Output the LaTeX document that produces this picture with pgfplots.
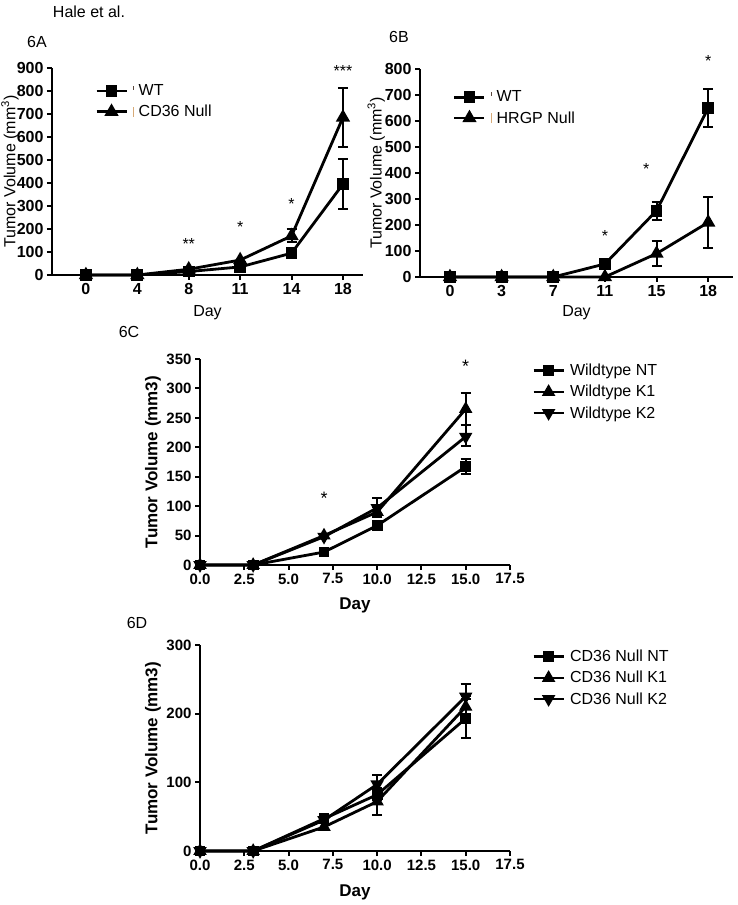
\documentclass[border=0pt]{standalone}
\usepackage{pgfplots}
\pgfplotsset{compat=1.18}
\usepackage{fontspec}
\setmainfont{Liberation Sans}
\definecolor{tanmark}{RGB}{215,170,120}
\definecolor{darkmark}{RGB}{90,70,60}

\pgfplotsset{
 base/.style={
  scale only axis, anchor=south west, clip=false,
  axis lines=left, axis line style={-, line width=2.5pt},
  tick style={line width=2pt, black}, major tick length=5pt, tick align=outside,
  /pgf/number format/assume math mode=true,
  tick label style={font=\fontsize{15}{18}\selectfont\bfseries},
  every axis plot/.append style={line width=2.8pt, black},
  legend cell align=left,
  legend image code/.code={\draw[mark repeat=2,mark phase=2,#1] plot coordinates {(0pt,0pt) (15pt,0pt) (30pt,0pt)};},
  legend style={draw=none, fill=none, anchor=north west, inner sep=0pt,
    font=\fontsize{16}{19}\selectfont, row sep=4pt,
    /tikz/every odd column/.append style={column sep=3pt}},
 },
 sq/.style={mark=square*, mark size=4.5pt},
 tri/.style={mark=triangle*, mark size=5.5pt},
 itri/.style={mark=triangle*, mark size=5.5pt, mark options={rotate=180}},
 eb/.style={draw=none, mark=none, forget plot, error bars/.cd, y dir=both, y explicit,
   error bar style={line width=2pt, black}, error mark options={rotate=90, mark size=5pt, line width=2pt, black}},
}

\begin{document}
\begin{tikzpicture}
\path[use as bounding box] (0pt,0pt) rectangle (738pt,905pt);

\node[font=\fontsize{16}{19}\selectfont] at (89pt,893pt) {Hale et al.};
\node[font=\fontsize{16}{19}\selectfont] at (37pt,863pt) {6A};
\node[font=\fontsize{16}{19}\selectfont] at (399pt,868pt) {6B};
\node[font=\fontsize{16}{19}\selectfont] at (129pt,573pt) {6C};
\node[font=\fontsize{16}{19}\selectfont] at (137pt,282pt) {6D};

% ---------- 6A ----------
\begin{axis}[base, at={(52pt,630pt)}, width=311pt, height=207pt,
  xmin=-0.66, xmax=5.39, ymin=0, ymax=900,
  xtick={0,1,2,3,4,5}, xticklabels={0,4,8,11,14,18},
  ytick={0,100,...,900},
  tick label style={font=\fontsize{16}{18}\selectfont\bfseries},
  xlabel={Day}, xlabel style={at={(axis description cs:0.5,-0.184)}, anchor=center, font=\fontsize{16}{19}\selectfont},
  ylabel={Tumor Volume (mm\textsuperscript{3})}, ylabel style={at={(axis description cs:-0.135,0.5)}, anchor=center, font=\fontsize{16}{19}\selectfont},
  legend style={at={(axis description cs:0.138,0.93)}},
]
\addplot+[eb] coordinates {(4,95) +- (0,15) (5,395) +- (0,110)};
\addplot+[eb] coordinates {(4,170) +- (0,28) (5,685) +- (0,130)};
\addplot[sq] coordinates {(0,0) (1,0) (2,15) (3,35) (4,95) (5,395)};
\addplot[tri] coordinates {(0,0) (1,0) (2,25) (3,65) (4,170) (5,685)};
\legend{{\raisebox{6pt}{\color{darkmark}\rule{0.8pt}{4pt}}\hspace{5pt}WT},{\raisebox{0pt}{\color{tanmark}\rule{0.8pt}{10pt}}\hspace{5pt}CD36 Null}}
\node[font=\fontsize{16}{19}\selectfont] at (axis cs:2,133) {**};
\node[font=\fontsize{16}{19}\selectfont] at (axis cs:3,208) {*};
\node[font=\fontsize{16}{19}\selectfont] at (axis cs:4,308) {*};
\node[font=\fontsize{16}{19}\selectfont] at (axis cs:5,888) {***};
\end{axis}

% ---------- 6B ----------
\begin{axis}[base, at={(420pt,628pt)}, width=313pt, height=208pt,
  xmin=-0.58, xmax=5.48, ymin=0, ymax=800,
  xtick={0,1,2,3,4,5}, xticklabels={0,3,7,11,15,18},
  ytick={0,100,...,800},
  tick label style={font=\fontsize{16}{18}\selectfont\bfseries},
  xlabel={Day}, xlabel style={at={(axis description cs:0.5,-0.173)}, anchor=center, font=\fontsize{16}{19}\selectfont},
  ylabel={Tumor Volume (mm\textsuperscript{3})}, ylabel style={at={(axis description cs:-0.14,0.5)}, anchor=center, font=\fontsize{16}{19}\selectfont},
  legend style={at={(axis description cs:0.105,0.905)}},
]
\addplot+[eb] coordinates {(4,255) +- (0,35) (5,650) +- (0,72)};
\addplot+[eb] coordinates {(4,90) +- (0,48) (5,210) +- (0,98)};
\addplot[sq] coordinates {(0,0) (1,0) (2,0) (3,50) (4,255) (5,650)};
\addplot[tri] coordinates {(0,0) (1,0) (2,0) (3,0) (4,90) (5,210)};
\legend{{\raisebox{6pt}{\color{darkmark}\rule{0.8pt}{4pt}}\hspace{5pt}WT},{\raisebox{0pt}{\color{tanmark}\rule{0.8pt}{10pt}}\hspace{5pt}HRGP Null}}
\node[font=\fontsize{16}{19}\selectfont] at (axis cs:3,158) {*};
\node[font=\fontsize{16}{19}\selectfont] at (axis cs:3.8,415) {*};
\node[font=\fontsize{16}{19}\selectfont] at (axis cs:5,831) {*};
\end{axis}

% ---------- 6C ----------
\begin{axis}[base, at={(200pt,340pt)}, width=310pt, height=206pt,
  xmin=0, xmax=17.5, ymin=0, ymax=350,
  xtick={0,2.5,...,17.5}, ytick={0,50,...,350},
  xticklabel style={/pgf/number format/.cd, fixed, fixed zerofill, precision=1},
  xlabel={Day}, xlabel style={at={(axis description cs:0.5,-0.194)}, anchor=center, font=\fontsize{17}{20}\selectfont\bfseries},
  ylabel={Tumor Volume (mm3)}, ylabel style={at={(axis description cs:-0.152,0.5)}, anchor=center, font=\fontsize{17}{20}\selectfont\bfseries},
  legend style={at={(axis description cs:1.071,0.985)}},
  sq/.append style={mark size=4pt}, tri/.append style={mark size=5pt}, itri/.append style={mark size=5pt},
]
\addplot+[eb] coordinates {(10,67) +- (0,5) (15,167) +- (0,13)};
\addplot+[eb] coordinates {(7,50) +- (0,3) (10,90) +- (0,8) (15,265) +- (0,27)};
\addplot+[eb] coordinates {(10,97) +- (0,16) (15,220) +- (0,18)};
\addplot[sq] coordinates {(0,0) (3,0) (7,22) (10,67) (15,167)};
\addplot[tri] coordinates {(0,0) (3,0) (7,50) (10,90) (15,265)};
\addplot[itri] coordinates {(0,0) (3,0) (7,48) (10,97) (15,218)};
\legend{Wildtype NT, Wildtype K1, Wildtype K2}
\node[font=\fontsize{18}{20}\selectfont] at (axis cs:7,113) {*};
\node[font=\fontsize{18}{20}\selectfont] at (axis cs:15,337) {*};
\end{axis}

% ---------- 6D ----------
\begin{axis}[base, at={(200pt,54pt)}, width=310pt, height=206pt,
  xmin=0, xmax=17.5, ymin=0, ymax=300,
  xtick={0,2.5,...,17.5}, ytick={0,100,200,300},
  xticklabel style={/pgf/number format/.cd, fixed, fixed zerofill, precision=1},
  xlabel={Day}, xlabel style={at={(axis description cs:0.5,-0.199)}, anchor=center, font=\fontsize{17}{20}\selectfont\bfseries},
  ylabel={Tumor Volume (mm3)}, ylabel style={at={(axis description cs:-0.152,0.5)}, anchor=center, font=\fontsize{17}{20}\selectfont\bfseries},
  legend style={at={(axis description cs:1.071,0.985)}},
  sq/.append style={mark size=4pt}, tri/.append style={mark size=5pt}, itri/.append style={mark size=5pt},
]
\addplot+[eb] coordinates {(10,82) +- (0,8) (15,193) +- (0,28)};
\addplot+[eb] coordinates {(10,72) +- (0,20) (15,210) +- (0,15)};
\addplot+[eb] coordinates {(10,97) +- (0,13) (15,225) +- (0,18)};
\addplot[sq] coordinates {(0,0) (3,0) (7,47) (10,82) (15,193)};
\addplot[tri] coordinates {(0,0) (3,0) (7,35) (10,72) (15,210)};
\addplot[itri] coordinates {(0,0) (3,0) (7,45) (10,97) (15,225)};
\legend{CD36 Null NT, CD36 Null K1, CD36 Null K2}
\end{axis}
\end{tikzpicture}
\end{document}
